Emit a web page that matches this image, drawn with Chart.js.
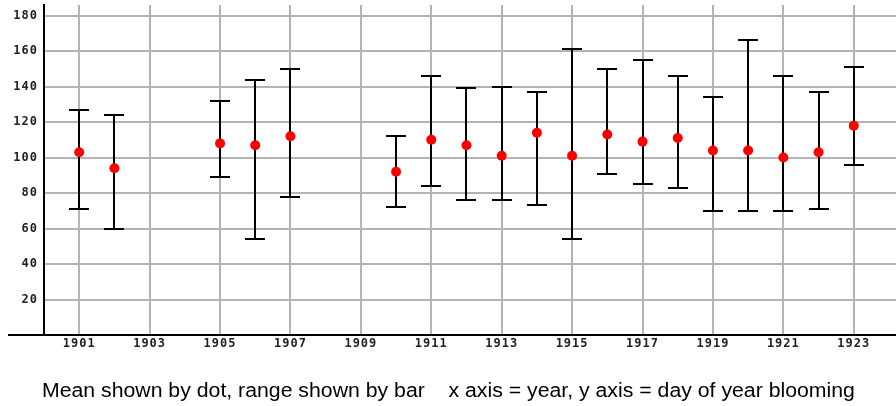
<!DOCTYPE html>
<html>
<head>
<meta charset="utf-8">
<script src="https://cdn.jsdelivr.net/npm/chart.js@4/dist/chart.umd.min.js"></script>
<style>
  html, body { margin: 0; padding: 0; background: #fff; }
  #wrap { position: relative; width: 896px; height: 406px; overflow: hidden; }
  #cap {
    position: absolute; left: 0; width: 896px; top: 380px;
    text-align: center; white-space: pre;
    font-family: "Liberation Sans", Arial, sans-serif; font-size: 20px; line-height: 20px; color: #000;
  }
  #cap span { display: inline-block; transform-origin: center; }
</style>
</head>
<body>
<div id="wrap">
  <canvas id="c" width="896" height="406"></canvas>
  <div id="cap"><span id="capText">Mean shown by dot, range shown by bar    x axis = year, y axis = day of year blooming</span></div>
</div>
<script>
const years = [1901, 1902, 1905, 1906, 1907, 1910, 1911, 1912, 1913, 1914, 1915, 1916, 1917, 1918, 1919, 1920, 1921, 1922, 1923];
const means = [103, 94, 108, 107, 112, 92, 110, 107, 101, 114, 101, 113, 109, 111, 104, 104, 100, 103, 118];
const lows  = [71, 60, 89, 54, 78, 72, 84, 76, 76, 73, 54, 91, 85, 83, 70, 70, 70, 71, 96];
const highs = [127, 124, 132, 144, 150, 112, 146, 139, 140, 137, 161, 150, 155, 146, 134, 166, 146, 137, 151];
const xTickYears = [1901, 1903, 1905, 1907, 1909, 1911, 1913, 1915, 1917, 1919, 1921, 1923];
const yTickValues = [20, 40, 60, 80, 100, 120, 140, 160, 180];

const tickFont = { family: "'DejaVu Sans Mono', monospace", size: 12, weight: 'bold' };

const errorBars = {
  id: 'errorBars',
  beforeDraw(chart) { chart.ctx.letterSpacing = '1px'; },
  beforeDatasetsDraw(chart) {
    const ctx = chart.ctx, xs = chart.scales.x, ys = chart.scales.y;
    ctx.save();
    ctx.letterSpacing = '0px';
    ctx.strokeStyle = '#000';
    ctx.lineWidth = 2;
    years.forEach((yr, i) => {
      const x = Math.round(xs.getPixelForValue(yr));
      const yl = Math.round(ys.getPixelForValue(lows[i]));
      const yh = Math.round(ys.getPixelForValue(highs[i]));
      ctx.beginPath();
      ctx.moveTo(x, yl); ctx.lineTo(x, yh);
      ctx.moveTo(x - 10, yl); ctx.lineTo(x + 10, yl);
      ctx.moveTo(x - 10, yh); ctx.lineTo(x + 10, yh);
      ctx.stroke();
    });
    // x axis line extends left of the y axis
    const b = chart.chartArea.bottom;
    ctx.beginPath();
    ctx.moveTo(8, b); ctx.lineTo(chart.chartArea.left, b);
    ctx.stroke();
    ctx.restore();
  }
};

new Chart(document.getElementById('c'), {
  type: 'scatter',
  data: {
    datasets: [{
      data: years.map((y, i) => ({ x: y, y: means[i] })),
      backgroundColor: '#ff0000',
      borderColor: '#ff0000',
      pointRadius: 5,
      pointBorderWidth: 0,
      pointStyle: 'circle'
    }]
  },
  options: {
    responsive: false,
    animation: false,
    layout: { autoPadding: false, padding: { top: 5, right: 0, left: 0, bottom: 0 } },
    plugins: { legend: { display: false }, tooltip: { enabled: false }, title: { display: false } },
    scales: {
      x: {
        type: 'linear',
        min: 1900, max: 1924.2,
        afterBuildTicks: s => { s.ticks = xTickYears.map(v => ({ value: v })); },
        afterFit: s => { s.height = 71; s.paddingLeft = 0; s.paddingRight = 0; },
        ticks: { callback: v => String(v), font: tickFont, color: '#222', padding: 2, maxRotation: 0, autoSkip: false },
        grid: { color: '#b4b4b4', lineWidth: 2, drawTicks: false },
        border: { display: true, color: '#000', width: 2 }
      },
      y: {
        min: 0, max: 186,
        afterBuildTicks: s => { s.ticks = yTickValues.map(v => ({ value: v })); },
        afterFit: s => { s.width = 44; s.paddingTop = 0; s.paddingBottom = 0; },
        ticks: { callback: v => String(v), font: tickFont, color: '#222', padding: 6 },
        grid: { color: '#b4b4b4', lineWidth: 2, drawTicks: false },
        border: { display: true, color: '#000', width: 2 }
      }
    }
  },
  plugins: [errorBars]
});

const cap = document.getElementById('capText');
const w = cap.getBoundingClientRect().width;
cap.style.transform = 'scaleX(' + (813 / w) + ')';
</script>
</body>
</html>
